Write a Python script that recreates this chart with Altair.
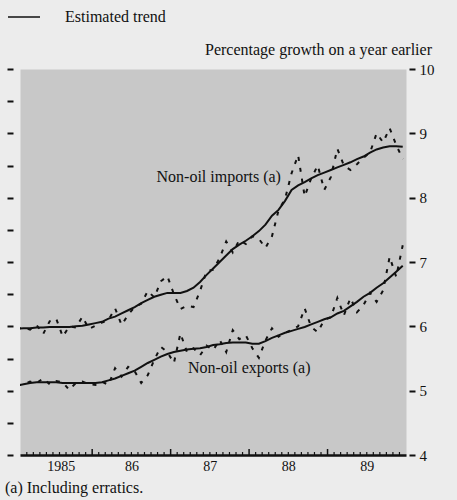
import altair as alt
import pandas as pd

# Monthly observations, Jan 1985 .. Dec 1989 (index 0 = Jan 1985)
imports_actual = [
    5.96, 5.98, 5.95, 6.02, 5.88, 6.08, 6.12, 5.84, 6.00, 5.98, 6.15, 5.96,
    6.01, 6.06, 6.10, 6.28, 6.02, 6.18, 6.30, 6.35, 6.55, 6.45, 6.70, 6.78,
    6.50, 6.27, 6.32, 6.30, 6.55, 6.86, 6.88, 7.06, 7.32, 7.15, 7.34, 7.28,
    7.40, 7.36, 7.22, 7.40, 7.80, 7.98, 8.38, 8.66, 8.02, 8.30, 8.50, 8.12,
    8.32, 8.76, 8.50, 8.43, 8.52, 8.62, 8.70, 9.00, 8.86, 9.08, 8.82, 8.60,
]
imports_trend = [
    5.96, 5.97, 5.97, 5.98, 5.98, 5.99, 5.99, 5.99, 5.99, 6.00, 6.01, 6.03,
    6.05, 6.07, 6.12, 6.15, 6.20, 6.25, 6.30, 6.36, 6.41, 6.46, 6.49, 6.52,
    6.52, 6.52, 6.55, 6.60, 6.69, 6.80, 6.90, 7.00, 7.10, 7.20, 7.27, 7.33,
    7.40, 7.48, 7.58, 7.72, 7.81, 7.95, 8.12, 8.19, 8.24, 8.30, 8.35, 8.39,
    8.43, 8.47, 8.51, 8.55, 8.60, 8.64, 8.70, 8.75, 8.78, 8.80, 8.80, 8.79,
]
exports_actual = [
    5.08, 5.10, 5.14, 5.12, 5.19, 5.10, 5.15, 5.13, 5.01, 5.12, 5.14, 5.10,
    5.09, 5.14, 5.09, 5.35, 5.22, 5.37, 5.30, 5.12, 5.24, 5.48, 5.68, 5.60,
    5.43, 5.89, 5.60, 5.66, 5.55, 5.70, 5.63, 5.79, 5.60, 5.94, 5.80, 5.86,
    5.66, 5.51, 5.78, 5.97, 5.84, 5.90, 5.94, 6.00, 6.28, 5.99, 5.91, 6.10,
    6.14, 6.44, 6.17, 6.44, 6.22, 6.33, 6.52, 6.38, 6.56, 7.08, 6.77, 7.26,
]
exports_trend = [
    5.08, 5.10, 5.12, 5.13, 5.13, 5.13, 5.13, 5.12, 5.12, 5.12, 5.12, 5.12,
    5.12, 5.13, 5.16, 5.19, 5.23, 5.27, 5.31, 5.37, 5.43, 5.48, 5.53, 5.57,
    5.60, 5.62, 5.64, 5.65, 5.66, 5.68, 5.71, 5.72, 5.74, 5.75, 5.75, 5.75,
    5.73, 5.73, 5.77, 5.82, 5.86, 5.90, 5.93, 5.96, 5.99, 6.03, 6.07, 6.11,
    6.14, 6.20, 6.24, 6.31, 6.38, 6.46, 6.52, 6.60, 6.67, 6.76, 6.85, 6.94,
]

years = [1985, 1986, 1987, 1988, 1989]
year_label_pos = [1985.6, 1986.5, 1987.5, 1988.5, 1989.5]
y_ticks = [4 + 0.5 * k for k in range(13)]
series_labels = ["Non-oil imports (a)", "Non-oil exports (a)"]
series_label_x = [1986.82, 1987.22]
series_label_y = [8.25, 5.27]

X_DOMAIN = [1985.08, 1990.0]
Y_DOMAIN = [4, 10]
W, H = 386, 386
FONT = "Liberation Serif"
INK = "#111111"

# mid-month positions in decimal years
month_t = [y + (m + 0.5) / 12 for y in years for m in range(12)]

rows = []
for name, act, trd in [
    ("imports", imports_actual, imports_trend),
    ("exports", exports_actual, exports_trend),
]:
    for t, a, tr in zip(month_t, act, trd):
        rows.append({"t": t, "series": name, "kind": "actual", "value": a})
        rows.append({"t": t, "series": name, "kind": "trend", "value": tr})
df = pd.DataFrame(rows)

# month boundaries along the bottom axis
bounds = pd.DataFrame({"t": [years[0] + k / 12 for k in range(2, 60)]})
bounds["major"] = [((k % 12) == 0) for k in range(2, 60)]

xs = alt.Scale(domain=X_DOMAIN, nice=False, zero=False)
ys = alt.Scale(domain=Y_DOMAIN, nice=False, zero=False)

x_axis = alt.Axis(
    values=year_label_pos,
    labelExpr="datum.value < 1986 ? '1985' : '' + (floor(datum.value) - 1900)",
    ticks=False,
    domain=True,
    domainColor=INK,
    domainWidth=2.5,
    grid=False,
    title=None,
    labelFont=FONT,
    labelFontSize=14,
    labelColor=INK,
    labelPadding=4,
)
y_right = alt.Axis(
    orient="right",
    values=y_ticks,
    format="d",
    labelExpr="datum.value % 1 === 0 ? datum.label : ''",
    domain=False,
    grid=False,
    ticks=True,
    tickSize=6,
    tickWidth=2,
    tickColor=INK,
    offset=3,
    labelPadding=4,
    labelFont=FONT,
    labelFontSize=15,
    labelColor=INK,
    title=None,
)
y_left = alt.Axis(
    orient="left",
    values=y_ticks,
    labels=False,
    domain=False,
    grid=False,
    ticks=True,
    tickSize=6,
    tickWidth=2,
    tickColor=INK,
    offset=7,
    title=None,
)

X = alt.X("t:Q", scale=xs, axis=x_axis)

base = alt.Chart(df)

# smooth estimated trend (solid)
trend = base.transform_filter(alt.datum.kind == "trend").mark_line(
    color=INK, strokeWidth=2, clip=True
).encode(
    x=X,
    y=alt.Y("value:Q", scale=ys, axis=y_right),
    detail="series:N",
)

# monthly figures (dashed)
actual = base.transform_filter(alt.datum.kind == "actual").mark_line(
    color=INK, strokeWidth=2, strokeDash=[4, 7], clip=True
).encode(
    x=X,
    y=alt.Y("value:Q", scale=ys, axis=y_left),
    detail="series:N",
)

minor_ticks = alt.Chart(bounds).transform_filter(~alt.datum.major).mark_rule(
    color=INK, strokeWidth=1.2
).encode(x=X, y=alt.value(H), y2=alt.value(H - 3))

major_ticks = alt.Chart(bounds).transform_filter(alt.datum.major).mark_rule(
    color=INK, strokeWidth=1.5
).encode(x=X, y=alt.value(H), y2=alt.value(H - 6))

labels_df = pd.DataFrame(
    {"label": series_labels, "t": series_label_x, "v": series_label_y}
)
series_text = alt.Chart(labels_df).mark_text(
    align="left", baseline="alphabetic", font=FONT, fontSize=16, color=INK
).encode(
    x=X,
    y=alt.Y("v:Q", scale=ys, axis=None),
    text="label:N",
)

# key, unit note and footnote around the panel
key_line = alt.Chart(pd.DataFrame({"k": [0]})).mark_rule(
    color=INK, strokeWidth=1.5
).encode(x=alt.value(-12), x2=alt.value(20), y=alt.value(-52))

notes_df = pd.DataFrame(
    {
        "text": [
            "Estimated trend",
            "Percentage growth on a year earlier",
            "(a) Including erratics.",
        ],
        "px": [45, 412, -15],
        "py": [-47, -14, 424],
        "align": ["left", "right", "left"],
    }
)
note_left = alt.Chart(notes_df).transform_filter(
    alt.datum.align == "left"
).mark_text(
    align="left", baseline="alphabetic", font=FONT, fontSize=16, color=INK
).encode(
    x=alt.X("px:Q", scale=None, axis=None),
    y=alt.Y("py:Q", scale=None, axis=None),
    text="text:N",
)
note_right = alt.Chart(notes_df).transform_filter(
    alt.datum.align == "right"
).mark_text(
    align="right", baseline="alphabetic", font=FONT, fontSize=16, color=INK
).encode(
    x=alt.X("px:Q", scale=None, axis=None),
    y=alt.Y("py:Q", scale=None, axis=None),
    text="text:N",
)

chart = (
    alt.layer(
        trend, actual, minor_ticks, major_ticks, series_text,
        key_line, note_left, note_right,
    )
    .resolve_axis(y="independent")
    .properties(
        width=W,
        height=H,
        autosize=alt.AutoSizeParams(type="none"),
        padding={"left": 20, "top": 69, "right": 51, "bottom": 45},
        background="#ececec",
    )
    .configure_view(fill="#c8c8c8", stroke="transparent")
)

chart.save("out.html", embed_options={"renderer": "svg", "actions": False})
